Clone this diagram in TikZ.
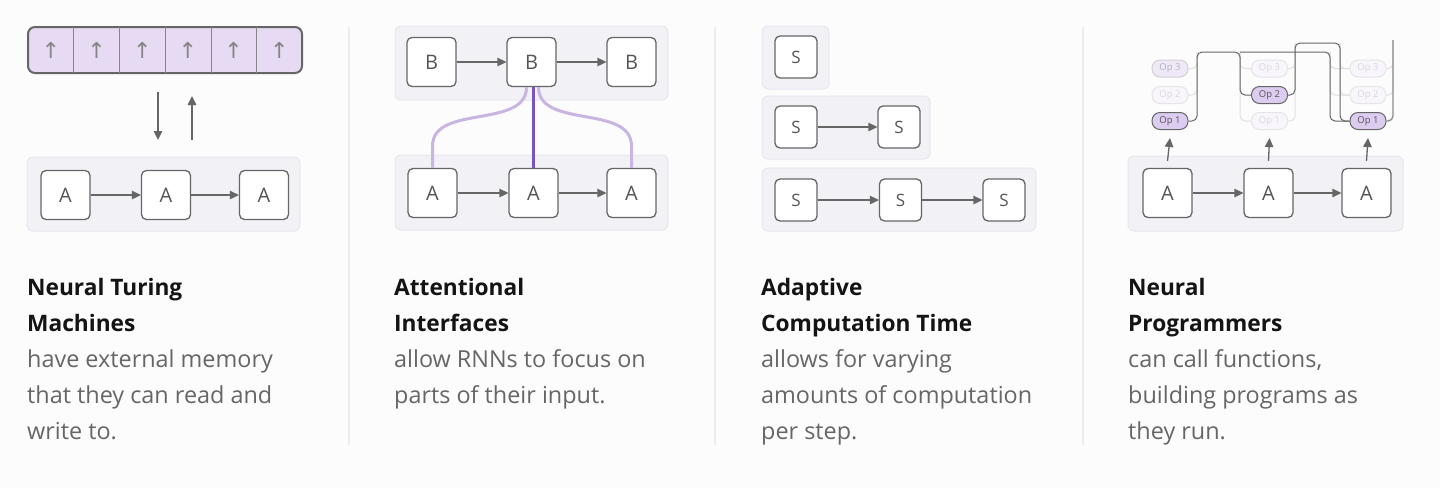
\documentclass[tikz,border=0pt]{standalone}
\usepackage{fontspec}
\setmainfont{Open Sans}
\newfontfamily\symfont{DejaVu Sans}
\usepackage{tikz}
\usetikzlibrary{
    arrows.meta,
    positioning,
    calc
}
\definecolor{bgcol}{HTML}{FCFCFC}
\definecolor{sepcol}{HTML}{EDEDED}
\definecolor{linecol}{HTML}{666666}
\definecolor{lettercol}{HTML}{555555}
\definecolor{framefill}{HTML}{F1F1F6}
\definecolor{framedraw}{HTML}{E7E7EE}
\definecolor{memfill}{HTML}{E6DBF2}
\definecolor{attlight}{HTML}{C9B5E2}
\definecolor{attdark}{HTML}{7C55BA}
\definecolor{opfill}{HTML}{DCCCF0}
\definecolor{bodycol}{HTML}{666666}
\tikzset{
    % Container panel
    panelbox/.style={
        rounded corners=6pt,
        draw=framedraw,
        fill=framefill,
        line width=1pt
    },
    % Letter cell
    cellnode/.style={
        rectangle,
        rounded corners=5pt,
        draw=linecol,
        fill=white,
        line width=1.3pt,
        minimum size=49pt,
        inner sep=0pt,
        text=lettercol,
        font=\fontsize{20}{20}\selectfont
    },
    % Small letter cell
    smallcell/.style={
        cellnode,
        minimum size=42pt,
        font=\fontsize{17}{17}\selectfont
    },
    % Memory slot
    memslot/.style={
        rectangle,
        minimum width=45.7pt,
        minimum height=46pt,
        inner sep=0pt,
        text=linecol!80,
        font=\symfont\fontsize{22}{22}\selectfont
    },
    % Arrow style
    flowarrow/.style={
        -{Triangle[length=9pt,width=8.5pt]},
        line width=1.3pt,
        draw=linecol
    },
    % Operation pill
    opnode/.style={
        rectangle,
        rounded corners=8pt,
        minimum width=36pt,
        minimum height=17pt,
        inner sep=0pt,
        line width=1pt,
        font=\fontsize{9.5}{9.5}\selectfont
    },
    opactive/.style={opnode, draw=linecol, fill=opfill, text=lettercol},
    opdim/.style={opnode, draw=black!18, fill=opfill!45, text=black!30},
    opghost/.style={opnode, draw=black!10, fill=opfill!20, text=black!15},
    % Wires
    wiredark/.style={draw=linecol, line width=1pt, rounded corners=5pt},
    wirefaint/.style={draw=black!12, line width=1pt, rounded corners=5pt},
    % Captions
    titletext/.style={anchor=base west, inner sep=0pt, text=black!92,
        font=\bfseries\fontsize{22.7}{22.7}\selectfont},
    bodytext/.style={anchor=base west, inner sep=0pt, text=bodycol,
        font=\fontsize{23.4}{23.4}\selectfont}
}

\begin{document}
\begin{tikzpicture}[x=1pt, y=-1pt]

    % Canvas
    \useasboundingbox (0,0) rectangle (1440,488);
    \fill[bgcol] (0,0) rectangle (1440,488);
    \foreach \sx in {349, 715, 1083}
        \draw[sepcol, line width=2pt] (\sx,27) -- (\sx,445);

    % Neural Turing Machines
    \draw[draw=linecol, fill=memfill, line width=2pt, rounded corners=7pt] (28,27) rectangle (302,73);
    \foreach \i in {1,...,6}
        \node[memslot] (mem\i) at (28+45.7*\i-22.85, 50) {↑};
    \foreach \i in {1,...,5}
        \draw[linecol!80, line width=1pt] (mem\i.north east) -- (mem\i.south east);
    \draw[panelbox] (27,157) rectangle (300,231);
    \node[cellnode] (ntm1) at (65.5,195) {A};
    \node[cellnode] (ntm2) at (166,195) {A};
    \node[cellnode] (ntm3) at (264,195) {A};
    \draw[flowarrow] (ntm1) -- (ntm2);
    \draw[flowarrow] (ntm2) -- (ntm3);
    \coordinate (rdtop) at (158,92);
    \coordinate (rdbot) at (158,140);
    \coordinate (wrbot) at (192,140);
    \coordinate (wrtop) at (192,96);
    \draw[flowarrow] (rdtop) -- (rdbot);
    \draw[flowarrow] (wrbot) -- (wrtop);

    % Attentional Interfaces
    \draw[panelbox] (395,26) rectangle (668,100);
    \draw[panelbox] (395,155) rectangle (668,230);
    \node[cellnode] (att1) at (431.5,62) {B};
    \node[cellnode] (att2) at (531.5,62) {B};
    \node[cellnode] (att3) at (631.5,62) {B};
    \node[cellnode] (inp1) at (432.5,193) {A};
    \node[cellnode] (inp2) at (533.5,193) {A};
    \node[cellnode] (inp3) at (631.5,193) {A};
    \draw[flowarrow] (att1) -- (att2);
    \draw[flowarrow] (att2) -- (att3);
    \draw[flowarrow] (inp1) -- (inp2);
    \draw[flowarrow] (inp2) -- (inp3);
    \draw[attlight, line width=3pt] ([xshift=-5pt]att2.south) .. controls +(0,42) and +(0,-42) .. (432.5,146) -- (inp1.north);
    \draw[attlight, line width=3pt] ([xshift=7pt]att2.south) .. controls +(0,42) and +(0,-42) .. (631.5,146) -- (inp3.north);
    \draw[attdark, line width=2.5pt] ([xshift=2pt]att2.south) -- (inp2.north);

    % Adaptive Computation Time
    \draw[panelbox] (762,26) rectangle (829,89);
    \draw[panelbox] (762,96) rectangle (930,159);
    \draw[panelbox] (762,168) rectangle (1036,231);
    \node[smallcell] (act1) at (796,57) {S};
    \node[smallcell] (act2) at (796,127) {S};
    \node[smallcell] (act3) at (899,127) {S};
    \node[smallcell] (act4) at (796,200) {S};
    \node[smallcell] (act5) at (900.5,200) {S};
    \node[smallcell] (act6) at (1004,200) {S};
    \draw[flowarrow] (act2) -- (act3);
    \draw[flowarrow] (act4) -- (act5);
    \draw[flowarrow] (act5) -- (act6);

    % Neural Programmers
    \draw[panelbox] (1128,156) rectangle (1403,231);
    \node[cellnode] (prg1) at (1167.5,193) {A};
    \node[cellnode] (prg2) at (1268.5,193) {A};
    \node[cellnode] (prg3) at (1366.5,193) {A};
    \draw[flowarrow] (prg1) -- (prg2);
    \draw[flowarrow] (prg2) -- (prg3);
    % operations, step 1
    \node[opdim]    (opa3) at (1170,68.5) {Op 3};
    \node[opghost]  (opa2) at (1170,95)   {Op 2};
    \node[opactive] (opa1) at (1170,121)  {Op 1};
    % operations, step 2
    \node[opghost]  (opb3) at (1269.5,68.5) {Op 3};
    \node[opactive] (opb2) at (1269.5,95)   {Op 2};
    \node[opghost]  (opb1) at (1269.5,121)  {Op 1};
    % operations, step 3
    \node[opghost]  (opc3) at (1368,68.5) {Op 3};
    \node[opghost]  (opc2) at (1368,95)   {Op 2};
    \node[opactive] (opc1) at (1368,121)  {Op 1};
    \foreach \s/\t in {prg1/opa1, prg2/opb1, prg3/opc1}
        \draw[flowarrow] ([yshift=7pt]\s.north) -- ([yshift=-8pt]\t.south);
    % wires
    \coordinate (busa) at (1197,52);
    \coordinate (busb) at (1240,52);
    \coordinate (busc) at (1330,52);
    \coordinate (busd) at (1295,43);
    \coordinate (buse) at (1340,43);
    \coordinate (busf) at (1393,40);
    \draw[wirefaint] (opa3.east) -| (busa);
    \draw[wirefaint] (opa2.east) -| (busa);
    \draw[wirefaint] (busb) |- (opb3.west);
    \draw[wirefaint] (busb) |- (opb1.west);
    \draw[wirefaint] (opb3.east) -| (busd);
    \draw[wirefaint] (opb1.east) -| (busd);
    \draw[wirefaint] (busc) |- (opc3.west);
    \draw[wirefaint] (busc) |- (opc2.west);
    \draw[wirefaint] (buse) |- (opc3.west);
    \draw[wirefaint] (buse) |- (opc2.west);
    \draw[wirefaint] (opc3.east) -| (busf);
    \draw[wirefaint] (opc2.east) -| (busf);
    \draw[wiredark] (opa1.east) -| (busa) -- (busb) |- (opb2.west);
    \draw[wiredark] (busb) -- (busc) |- (opc1.west);
    \draw[wiredark] (opb2.east) -| (busd) -- (buse) |- (opc1.west);
    \draw[wiredark, draw=black!45, line width=1.3pt] (opc1.east) -| (busf);

    % Captions
    \node[titletext] (ntmtitle) at (27,295) {Neural Turing};
    \node[titletext] at (27,331) {Machines};
    \foreach \txt [count=\i] in {have external memory, that they can read and, write to.}
        \node[bodytext] at (27,331+36*\i) {\txt};
    \node[titletext] (atttitle) at (394,295) {Attentional};
    \node[titletext] at (394,331) {Interfaces};
    \foreach \txt [count=\i] in {allow RNNs to focus on, parts of their input.}
        \node[bodytext] at (394,331+36*\i) {\txt};
    \node[titletext] (acttitle) at (761,295) {Adaptive};
    \node[titletext] at (761,331) {Computation Time};
    \foreach \txt [count=\i] in {allows for varying, amounts of computation, per step.}
        \node[bodytext] at (761,331+36*\i) {\txt};
    \node[titletext] (prgtitle) at (1128,295) {Neural};
    \node[titletext] at (1128,331) {Programmers};
    \foreach \txt [count=\i] in {{can call functions,}, building programs as, they run.}
        \node[bodytext] at (1128,331+36*\i) {\txt};

\end{tikzpicture}
\end{document}
